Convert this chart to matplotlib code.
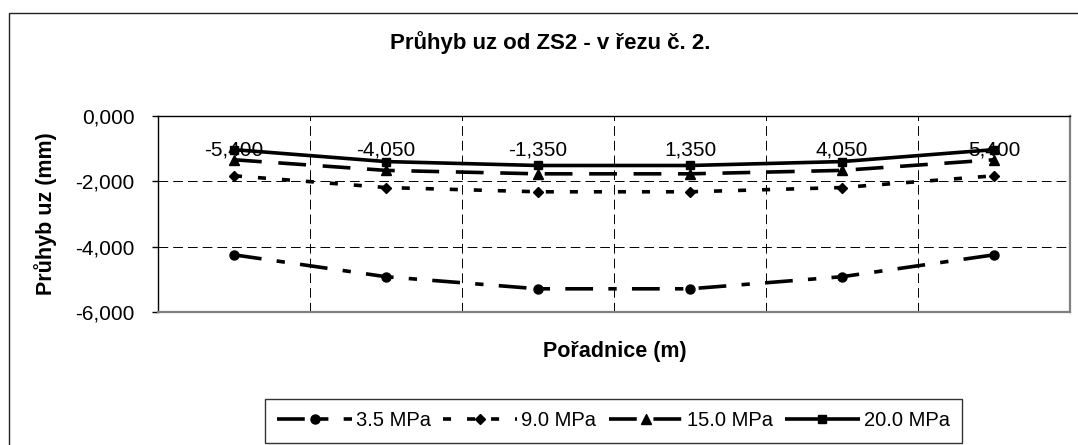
import matplotlib
matplotlib.use("Agg")
import matplotlib.pyplot as plt
from matplotlib.patches import Rectangle
from matplotlib.transforms import blended_transform_factory

plt.rcParams['font.family'] = ['Liberation Sans', 'DejaVu Sans']
plt.rcParams['lines.scale_dashes'] = False

# Pořadnice (m) - kategorie na ose x
poradnice = [-5.400, -4.050, -1.350, 1.350, 4.050, 5.400]
# Průhyb uz (mm) pro jednotlivé moduly
uz_35 = [-4.250, -4.920, -5.290, -5.290, -4.920, -4.250]
uz_90 = [-1.830, -2.190, -2.320, -2.320, -2.190, -1.830]
uz_150 = [-1.340, -1.665, -1.770, -1.770, -1.665, -1.340]
uz_200 = [-1.030, -1.395, -1.515, -1.515, -1.395, -1.030]
serie_labels = ['3.5 MPa', '9.0 MPa', '15.0 MPa', '20.0 MPa']
y_ticks = [-6.0, -4.0, -2.0, 0.0]


def cz(v):
    return ('%.3f' % v).replace('.', ',')


W, H = 1078, 445
fig = plt.figure(figsize=(W / 100, H / 100), dpi=100)
fig.patch.set_facecolor('white')

# ramecek grafu (pravy a dolni okraj je mimo obrazek)
fig.patches.append(Rectangle((9 / W, -12 / H), (1091 - 9) / W, (445 + 12 - 13) / H,
                             transform=fig.transFigure, fill=False,
                             edgecolor='#222222', linewidth=1.0))

ax = fig.add_axes([158 / W, 1 - 312 / H, (1070 - 158) / W, (312 - 116) / H])
x = list(range(len(poradnice)))

styly = [
    dict(data=uz_35, marker='o', ms=6.5, dashes=(20, 11, 6, 11)),
    dict(data=uz_90, marker='D', ms=5.5, dashes=(5.8, 11.5)),
    dict(data=uz_150, marker='^', ms=7, dashes=(20, 12)),
    dict(data=uz_200, marker='s', ms=6, dashes=None),
]
for st, lab in zip(styly, serie_labels):
    line, = ax.plot(x, st['data'], color='black', lw=2.6, marker=st['marker'],
                    ms=st['ms'], mfc='black', mec='black', label=lab,
                    solid_capstyle='butt', clip_on=False, zorder=3)
    if st['dashes'] is not None:
        line.set_dashes(st['dashes'])

ax.set_xlim(-0.5, len(x) - 0.5)
ax.set_ylim(-6.0, 0.0)

# svisla mrizka mezi kategoriemi
ax.set_xticks([i + 0.5 for i in x[:-1]])
ax.set_xticklabels([])
ax.tick_params(axis='x', length=0)
ax.set_yticks(y_ticks)
ax.set_yticklabels([cz(v) for v in y_ticks], fontsize=15)
ax.tick_params(axis='y', direction='out', length=4, width=1, pad=13)
ax.grid(True, color='black', lw=0.7, linestyle=(0, (7, 3.6)))

# popisky kategorii pod osou y=0
tr = blended_transform_factory(ax.transData, ax.transAxes)
for xi, p in zip(x, poradnice):
    ax.text(xi, 1 - (155 - 116) / 196, cz(p), transform=tr, ha='center',
            va='baseline', fontsize=15, zorder=2)

for s in ['left', 'top']:
    ax.spines[s].set_color('black')
    ax.spines[s].set_linewidth(1.0)
for s in ['right', 'bottom']:
    ax.spines[s].set_color('#808080')
    ax.spines[s].set_linewidth(1.6)

fig.text(550 / W, 1 - 49 / H, 'Průhyb uz od ZS2 - v řezu č. 2.', ha='center',
         va='baseline', fontsize=16, fontweight='bold')
fig.text(615 / W, 1 - 357 / H, 'Pořadnice (m)', ha='center', va='baseline',
         fontsize=15.5, fontweight='bold')
fig.text(46 / W, 1 - 214 / H, 'Průhyb uz (mm)', ha='center', va='center',
         rotation=90, fontsize=15.5, fontweight='bold')

leg = ax.legend(loc='center', bbox_to_anchor=(613.5 / W, 1 - 421 / H),
                bbox_transform=fig.transFigure, ncol=4, fontsize=14.5,
                handlelength=3.7, handletextpad=0.2, columnspacing=0.6,
                borderpad=0.6, fancybox=False, framealpha=1, numpoints=1)
leg.get_frame().set_edgecolor('#333333')
leg.get_frame().set_linewidth(1.0)

fig.savefig('out.png', dpi=100, facecolor='white')
